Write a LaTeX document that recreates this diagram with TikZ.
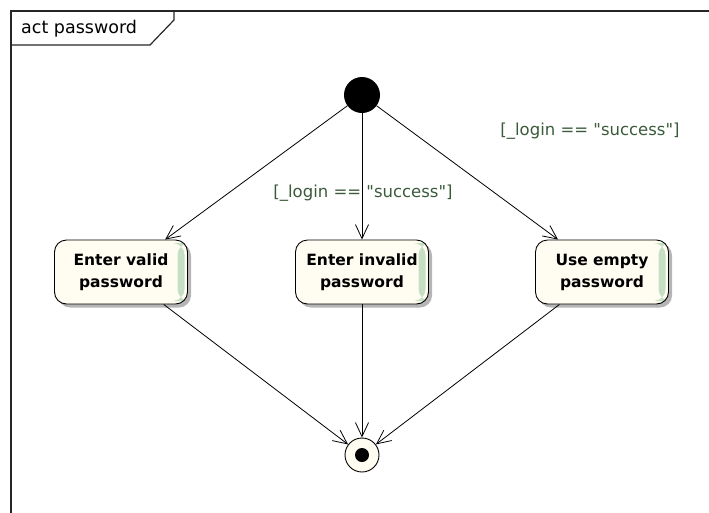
\documentclass[tikz,border=0pt]{standalone}
\usepackage{fontspec}
\setmainfont{DejaVu Sans}
\newfontfamily\guardfont{DejaVu Sans}[Ligatures=TeXOff]
\usetikzlibrary{arrows.meta,shadows}
\definecolor{nodefill}{HTML}{FFFDF2}
\definecolor{stripgreen}{HTML}{C4DFC4}
\definecolor{guardcol}{HTML}{3A5A3A}
\definecolor{shadowgray}{HTML}{B5B5B5}
\tikzset{
  actbox/.style={draw=black, line width=0.9pt, fill=nodefill, rounded corners=12pt,
    minimum width=133pt, minimum height=64pt, align=center,
    font=\fontsize{15.5}{22}\selectfont\bfseries, inner sep=0pt,
    drop shadow={shadow xshift=3.5pt, shadow yshift=-3.5pt, fill=shadowgray, opacity=1},
    path picture={\fill[stripgreen] ([xshift=-10pt,yshift=-3pt]path picture bounding box.north east) rectangle ([xshift=-3pt,yshift=3pt]path picture bounding box.south east);}},
  initnode/.style={circle, fill=black, minimum size=36pt, inner sep=0pt},
  finalnode/.style={circle, draw=black, line width=0.9pt, fill=nodefill, minimum size=34pt, inner sep=0pt},
  flow/.style={draw=black, line width=0.8pt, -{Straight Barb[length=14pt,width=13pt,line width=0.8pt]}},
  guard/.style={text=guardcol, font=\guardfont\fontsize{16.5}{20}\selectfont, inner sep=0pt},
  frameline/.style={draw=black!85, line width=1.2pt}
}
\begin{document}
\begin{tikzpicture}[x=1pt,y=-1pt]
\useasboundingbox (0,0) rectangle (709,512);
% frame
\draw[frameline] (11,520) -- (11,11) -- (712,11);
\draw[frameline] (11,45) -- (150,45) -- (174,20) -- (174,11);
\node[anchor=west, font=\fontsize{17.5}{20}\selectfont, inner sep=0pt] (title) at (21,29) {act password};
% nodes
\node[initnode] (init) at (362,95) {};
\node[actbox] (n1) at (121,272) {Enter valid\\password};
\node[actbox] (n2) at (362,272) {Enter invalid\\password};
\node[actbox] (n3) at (602,272) {Use empty\\password};
\node[finalnode] (fin) at (362,455) {};
\fill[black] (fin.center) circle (7pt);
% flows
\draw[flow] (init) -- (n1);
\draw[flow] (init) -- (n2);
\draw[flow] (init) -- (n3);
\draw[flow] (n1) -- (fin);
\draw[flow] (n2) -- (fin);
\draw[flow] (n3) -- (fin);
% guards
\node[guard] (g1) at (363,193) {[\_login == "success"]};
\node[guard] (g2) at (590,131) {[\_login == "success"]};
\end{tikzpicture}
\end{document}
